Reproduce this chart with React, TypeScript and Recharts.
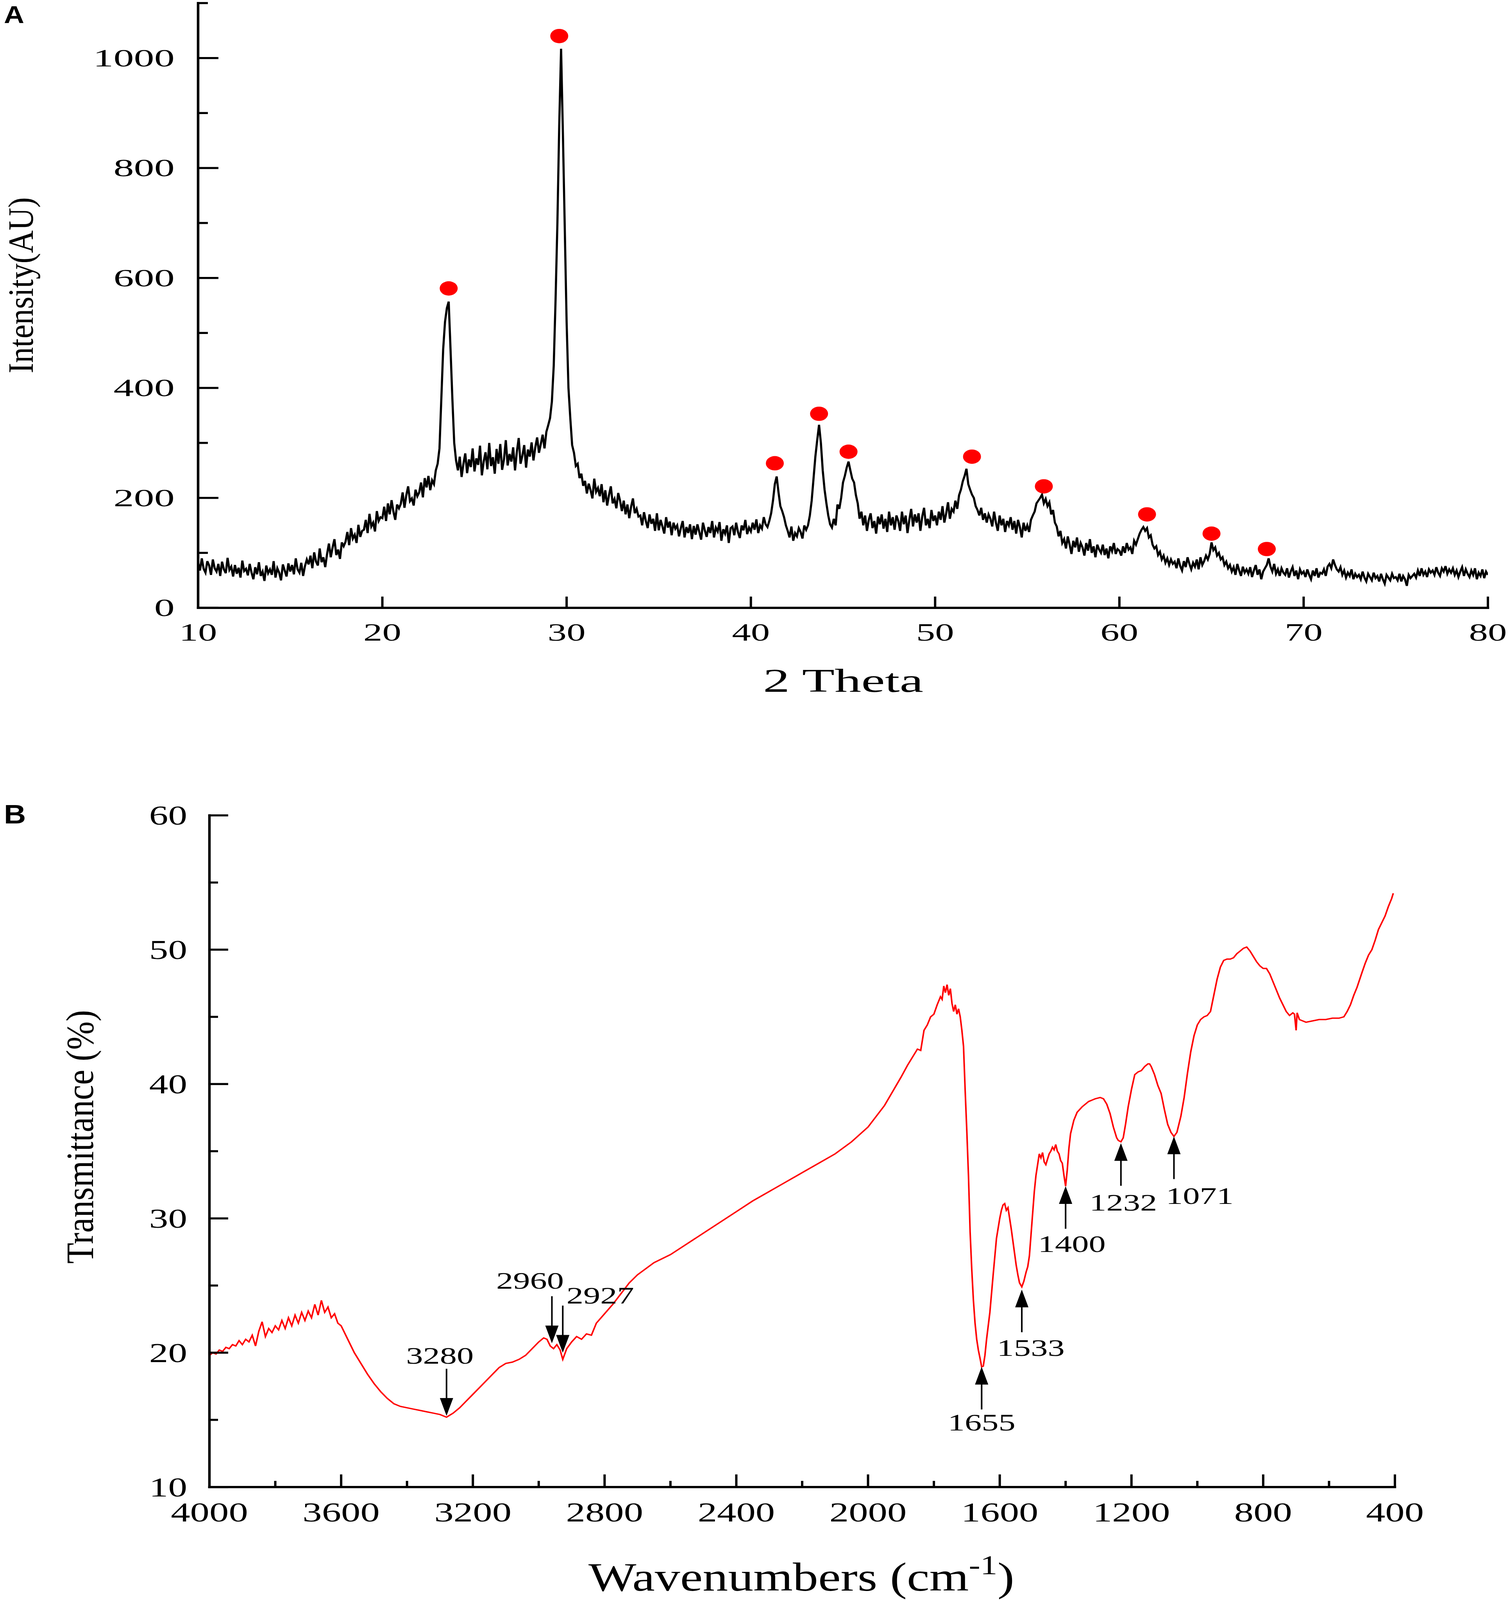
import React from 'react'
import { ComposedChart, Line, Scatter, XAxis, YAxis } from 'recharts'

const SERIF = '"Liberation Serif", "Times New Roman", Times, serif'
const SANS = '"Liberation Sans", Arial, Helvetica, sans-serif'

// ---------- A: XRD pattern, 2 theta 10..80 sampled every 0.1 ----------
const xrdStart = 10
const xrdStep = 0.1
const xrdIntensity = [
  82, 68, 90, 71, 64, 85, 77, 60, 88, 72,
  66, 80, 58, 84, 70, 63, 91, 69, 75, 57,
  78, 62, 73, 55, 86, 67, 71, 59, 80, 64,
  52, 74, 61, 83, 58, 66, 49, 77, 63, 70,
  60, 85, 55, 72, 64, 50, 79, 68, 57, 81,
  66, 78, 61, 90, 70, 64, 82, 58, 76, 88,
  79, 95, 72, 101, 84, 77, 108, 83, 92, 74,
  98, 117, 92, 110, 125, 96, 106, 89, 119, 112,
  120, 138, 114, 145, 126, 133, 118, 151, 129, 140,
  142, 160, 136, 171, 148, 155, 139, 176, 158, 165,
  163, 184, 158, 190, 170, 196, 175, 160, 188, 181,
  189, 210, 182, 205, 221, 194, 199, 186, 215, 203,
  210, 228, 201, 236, 219, 240, 214, 232, 225, 250,
  262, 290, 380, 470, 520, 545, 557, 470, 380, 300,
  268, 250, 275, 238, 262, 281, 245, 270, 256, 290,
  248, 272, 260, 295, 241, 266, 283, 252, 300, 258,
  274, 244, 289, 262, 298, 251, 270, 305, 259, 280,
  266, 292, 250, 284, 309, 262, 277, 296, 255, 288,
  275, 301, 268, 292, 310, 282, 298, 315, 290, 320,
  332, 345, 375, 440, 560, 700, 880, 1017, 860, 690,
  520, 400, 345, 296, 282, 258, 262, 236, 244, 222,
  231, 208, 226, 214, 199, 235, 211, 218, 203, 225,
  192, 214, 186, 205, 221, 190, 198, 181, 209, 195,
  176, 195, 170, 188, 163, 184, 199, 172, 180, 166,
  168, 150, 174, 158, 145, 170, 153, 162, 140, 172,
  141, 160, 148, 135, 165, 146, 157, 132, 155, 144,
  150, 130, 145, 158, 128, 147, 136, 152, 125, 149,
  133, 152, 138, 124, 155, 141, 129, 147, 136, 158,
  128, 146, 139, 156, 122, 143, 135, 150, 118, 145,
  148, 132, 155, 138, 127, 150, 141, 160, 134, 146,
  139, 155, 142, 161, 136, 150, 144, 165, 152, 147,
  158, 172, 195, 225, 239, 210, 185, 176, 165, 150,
  140, 128, 148, 122, 136, 130, 145, 138, 126, 150,
  142, 150, 168, 195, 235, 275, 305, 333, 300, 250,
  215, 190, 168, 152, 146, 162, 150, 188, 180, 200,
  228, 240, 255, 266, 250, 235, 228, 205, 190, 162,
  175, 150, 168, 140, 160, 172, 145, 158, 135, 166,
  152, 170, 144, 162, 138, 175, 150, 165, 142, 168,
  158, 140, 175, 152, 168, 136, 160, 180, 148, 170,
  155, 172, 140, 166, 182, 150, 162, 145, 178, 158,
  168, 150, 175, 160, 185, 155, 172, 192, 162, 180,
  175, 195, 180, 205, 215, 230, 240, 253, 225, 215,
  206, 200, 185, 178, 168, 182, 160, 172, 155, 170,
  162, 148, 175, 155, 140, 168, 150, 162, 138, 158,
  150, 165, 142, 158, 135, 160, 147, 128, 155, 140,
  150, 138, 160, 168, 175, 190, 195, 200, 206, 190,
  198, 185, 192, 170, 178, 155, 148, 130, 140, 118,
  125, 108, 130, 115, 98, 122, 110, 128, 102, 118,
  110, 95, 118, 104, 125, 100, 112, 92, 115, 106,
  100, 115, 96, 108, 90, 112, 103, 118, 98, 107,
  104, 95, 112, 100, 118, 106, 110, 98, 122, 115,
  125, 135, 142, 147, 140, 145, 128, 132, 115, 108,
  112, 96, 102, 88, 95, 82, 90, 78, 88, 80,
  84, 72, 90, 76, 68, 85, 74, 92, 80, 70,
  82, 75, 88, 70, 92, 78, 85, 95, 88, 98,
  119, 105, 110, 95, 100, 88, 92, 78, 84, 72,
  78, 66, 74, 60, 80, 68, 58, 75, 64, 70,
  62, 74, 56, 68, 78, 60, 70, 52, 66, 72,
  78, 90, 75, 66, 80, 62, 70, 58, 72, 64,
  60, 72, 55, 66, 74, 58, 68, 52, 70, 62,
  66, 56, 70, 60, 52, 68, 58, 72, 55, 64,
  62, 70, 58, 75, 80, 72, 88, 78, 70, 66,
  74, 60, 68, 55, 64, 58, 70, 52, 62, 56,
  60, 52, 66, 55, 48, 62, 56, 50, 64, 54,
  58, 48, 62, 52, 44, 60, 55, 50, 62, 54,
  56, 50, 62, 48, 58, 52, 40, 60, 54, 58,
  62, 55, 68, 58, 72, 60, 66, 56, 70, 64,
  68, 60, 74, 64, 58, 72, 66, 76, 62, 70,
  64, 72, 60, 68, 56, 66, 74, 58, 70, 62,
  56, 68, 60, 72, 52, 64, 58, 70, 54, 66,
  60,
]

// red markers above the indexed reflections
const peakTheta = [23.6, 29.6, 41.3, 43.7, 45.3, 52.0, 55.9, 61.5, 65.0, 68.0]
const peakMark = [581, 1040, 263, 353, 284, 275, 221, 170, 135, 107]

const thetaTicks = [10, 20, 30, 40, 50, 60, 70, 80]
const intensityTicks = [0, 100, 200, 300, 400, 500, 600, 700, 800, 900, 1000, 1100]

// ---------- B: FTIR spectrum ----------
const ftirWave = [
  4000, 3990, 3980, 3970, 3960, 3950, 3940, 3930, 3920, 3910,
  3900, 3890, 3880, 3870, 3860, 3850, 3840, 3830, 3820, 3810,
  3800, 3790, 3780, 3770, 3760, 3750, 3740, 3730, 3720, 3710,
  3700, 3690, 3680, 3670, 3660, 3650, 3640, 3630, 3620, 3610,
  3600, 3580, 3560, 3540, 3520, 3500, 3480, 3460, 3440, 3420,
  3400, 3380, 3360, 3340, 3320, 3300, 3280, 3260, 3240, 3220,
  3200, 3180, 3160, 3140, 3120, 3100, 3080, 3060, 3040, 3020,
  3000, 2985, 2975, 2965, 2955, 2945, 2935, 2927, 2915, 2900,
  2885, 2870, 2855, 2840, 2825, 2800, 2775, 2750, 2725, 2700,
  2650, 2600, 2550, 2500, 2450, 2400, 2350, 2300, 2250, 2200,
  2150, 2100, 2050, 2000, 1950, 1900, 1880, 1860, 1850, 1840,
  1830, 1820, 1810, 1800, 1790, 1780, 1775, 1770, 1765, 1760,
  1755, 1750, 1745, 1740, 1735, 1730, 1725, 1720, 1715, 1710,
  1705, 1700, 1695, 1690, 1685, 1680, 1675, 1670, 1665, 1660,
  1655, 1650, 1645, 1640, 1630, 1620, 1610, 1600, 1595, 1590,
  1585, 1580, 1575, 1570, 1565, 1560, 1555, 1550, 1545, 1540,
  1533, 1527, 1520, 1515, 1510, 1505, 1500, 1495, 1490, 1485,
  1480, 1475, 1470, 1465, 1460, 1455, 1450, 1445, 1440, 1435,
  1430, 1425, 1420, 1415, 1410, 1405, 1400, 1395, 1390, 1385,
  1375, 1365, 1350, 1330, 1310, 1295, 1285, 1275, 1265, 1255,
  1245, 1240, 1232, 1225, 1218, 1210, 1200, 1190, 1180, 1170,
  1160, 1150, 1145, 1140, 1130, 1120, 1110, 1100, 1090, 1080,
  1071, 1062, 1050, 1040, 1030, 1020, 1010, 1000, 990, 980,
  970, 960, 950, 940, 930, 920, 910, 900, 890, 880,
  870, 860, 850, 840, 830, 820, 810, 800, 790, 780,
  770, 760, 750, 740, 730, 720, 710, 705, 700, 697,
  690, 680, 670, 650, 630, 610, 590, 570, 555, 545,
  535, 525, 515, 500, 490, 480, 470, 460, 450, 440,
  430, 420, 410, 405,
]
const ftirTrans = [
  19.8, 20.0, 19.9, 20.2, 20.1, 20.4, 20.3, 20.6, 20.5, 20.9,
  20.6, 21.0, 20.8, 21.3, 20.5, 21.6, 22.3, 21.2, 21.8, 21.5,
  22.0, 21.7, 22.4, 21.8, 22.6, 22.0, 22.8, 22.2, 23.0, 22.4,
  23.1, 22.6, 23.6, 22.8, 23.9, 23.0, 23.4, 22.6, 22.9, 22.2,
  22.0, 21.0, 20.0, 19.2, 18.4, 17.7, 17.1, 16.6, 16.2, 16.0,
  15.9, 15.8, 15.7, 15.6, 15.5, 15.4, 15.2, 15.5, 15.9, 16.4,
  16.9, 17.4, 17.9, 18.4, 18.9, 19.2, 19.3, 19.5, 19.8, 20.3,
  20.8, 21.1, 21.0, 20.5, 20.3, 20.6, 20.2, 19.5, 20.3, 20.8,
  21.2, 21.0, 21.4, 21.3, 22.2, 22.9, 23.6, 24.4, 25.2, 25.8,
  26.7, 27.3, 28.1, 28.9, 29.7, 30.5, 31.3, 32.0, 32.7, 33.4,
  34.1, 34.8, 35.7, 36.8, 38.4, 40.5, 41.4, 42.2, 42.6, 42.5,
  44.0, 44.4, 45.0, 45.2, 45.9, 46.5, 46.3, 47.3, 46.8, 47.4,
  46.6, 47.1, 46.0, 45.4, 45.9, 45.2, 45.6, 45.0, 44.0, 42.8,
  39.5, 36.5, 33.2, 29.0, 26.2, 23.9, 22.2, 21.0, 20.2, 19.6,
  18.95, 19.0, 19.8, 21.0, 23.0, 25.8, 28.5, 30.0, 30.6, 31.0,
  31.1, 30.6, 30.8, 30.0, 29.2, 28.3, 27.4, 26.5, 25.8, 25.2,
  24.9, 25.3, 26.0, 26.4, 27.2, 28.8, 30.4, 32.0, 33.2, 34.0,
  34.8, 34.5, 34.9, 34.2, 34.0, 34.4, 34.8, 35.0, 35.3, 35.1,
  35.5, 35.0, 34.8, 34.3, 34.1, 33.2, 32.4, 33.6, 35.2, 36.3,
  37.3, 37.9, 38.3, 38.7, 38.9, 39.0, 38.9, 38.5, 37.8, 36.8,
  36.0, 35.8, 35.7, 36.0, 37.0, 38.3, 39.6, 40.7, 40.9, 41.0,
  41.3, 41.5, 41.5, 41.3, 40.7, 39.9, 39.3, 38.1, 37.0, 36.4,
  36.1, 36.4, 37.6, 39.0, 40.8, 42.4, 43.6, 44.4, 44.8, 45.0,
  45.1, 45.4, 46.6, 47.8, 48.7, 49.2, 49.3, 49.3, 49.4, 49.7,
  49.9, 50.1, 50.2, 49.9, 49.5, 49.1, 48.8, 48.6, 48.6, 48.2,
  47.6, 47.0, 46.4, 45.9, 45.4, 45.1, 45.3, 45.2, 44.0, 45.3,
  44.8, 44.7, 44.6, 44.7, 44.8, 44.8, 44.9, 44.9, 45.0, 45.4,
  45.9, 46.6, 47.2, 48.3, 49.0, 49.6, 50.0, 50.7, 51.5, 52.0,
  52.5, 53.2, 53.8, 54.2,
]

// assigned bands: wavenumber, arrow tip (transmittance), arrow pointing up?
const bandWave = [3280, 2960, 2927, 1655, 1533, 1400, 1232, 1071]
const bandTip = [15.3, 20.7, 20.0, 18.95, 24.7, 32.4, 35.6, 36.1]
const bandUp = [false, false, false, true, true, true, true, true]

const waveTicks = [4000, 3800, 3600, 3400, 3200, 3000, 2800, 2600, 2400, 2200, 2000, 1800, 1600, 1400, 1200, 1000, 800, 600, 400]
const transTicks = [10, 15, 20, 25, 30, 35, 40, 45, 50, 55, 60]

const xrdData = xrdIntensity.map((y, i) => ({ x: Math.round((xrdStart + i * xrdStep) * 10) / 10, y }))
const peakData = peakTheta.map((x, i) => ({ x, y: peakMark[i] }))
const ftirData = ftirWave.map((x, i) => ({ x, y: ftirTrans[i] }))
const bandData = bandWave.map((x, i) => ({ x, y: bandTip[i], up: bandUp[i] }))

// label placement around each arrow (pixels from the arrow tip)
const bandLabelOffset: Record<number, [number, number]> = {
  3280: [-17, -153],
  2960: [-56, -160],
  2927: [96, -144],
  1655: [0, 186],
  1533: [23, 194],
  1400: [16, 193],
  1232: [6, 198],
  1071: [66, 198],
}

const PAGE_W = 3862
const PAGE_H = 4688

const axisStyle = { stroke: '#000', strokeWidth: 6.5, strokeLinecap: 'square' as const }

function leftTick(o: { major: (v: number) => boolean; big: number; small: number; gap: number; size: number; sx: number }) {
  return (p: any) => {
    const v = p.payload.value
    const isMajor = o.major(v)
    return (
      <g>
        <line x1={p.x} x2={p.x + (isMajor ? o.big : o.small)} y1={p.y} y2={p.y} stroke="#000" strokeWidth={6} />
        {isMajor && (
          <text
            transform={`translate(${p.x - o.gap},${p.y + o.size * 0.338}) scale(${o.sx},1)`}
            textAnchor="end"
            fontFamily={SERIF}
            fontSize={o.size}
            fill="#000"
          >
            {v}
          </text>
        )}
      </g>
    )
  }
}

function bottomTick(o: { major: (v: number) => boolean; big: number; small: number; base: number; size: number; sx: number }) {
  return (p: any) => {
    const v = p.payload.value
    const isMajor = o.major(v)
    return (
      <g>
        <line x1={p.x} x2={p.x} y1={p.y} y2={p.y - (isMajor ? o.big : o.small)} stroke="#000" strokeWidth={6} />
        {isMajor && (
          <text
            transform={`translate(${p.x},${p.y + o.base}) scale(${o.sx},1)`}
            textAnchor="middle"
            fontFamily={SERIF}
            fontSize={o.size}
            fill="#000"
          >
            {v}
          </text>
        )}
      </g>
    )
  }
}

const xrdLeftTick = leftTick({ major: (v) => v % 200 === 0, big: 52, small: 25, gap: 60, size: 72, sx: 1.45 })
const xrdBottomTick = bottomTick({ major: () => true, big: 33, small: 33, base: 96, size: 73, sx: 1.33 })
const ftirLeftTick = leftTick({ major: (v) => v % 10 === 0, big: 48, small: 22, gap: 57, size: 81, sx: 1.2 })
const ftirBottomTick = bottomTick({ major: (v) => v % 400 === 0, big: 37, small: 18, base: 101, size: 81, sx: 1.22 })

function PeakDot(p: any) {
  if (p.cx == null || p.cy == null) return null
  return <ellipse cx={p.cx} cy={p.cy} rx={23} ry={21} fill="#ff0000" />
}

function BandArrow(p: any) {
  const { cx, cy, payload } = p
  if (cx == null || cy == null) return null
  const up = payload.up
  const s = up ? 1 : -1
  const len = up ? 125 : 138
  const head = 52
  const half = 17
  const [dx, dy] = bandLabelOffset[payload.x] || [0, 0]
  return (
    <g>
      <line x1={cx} y1={cy + s * (head - 4)} x2={cx} y2={cy + s * len} stroke="#000" strokeWidth={4} />
      <polygon points={`${cx},${cy} ${cx - half},${cy + s * head} ${cx + half},${cy + s * head}`} fill="#000" />
      <text
        transform={`translate(${cx + dx},${cy + dy}) scale(1.22,1)`}
        textAnchor="middle"
        fontFamily={SERIF}
        fontSize={71}
        fill="#000"
      >
        {payload.x}
      </text>
    </g>
  )
}

export default function App() {
  // if the visible page is smaller than the figure, squeeze the figure into it
  const vw = typeof window !== 'undefined' ? window.innerWidth : PAGE_W
  const vh = typeof window !== 'undefined' ? window.innerHeight : PAGE_H
  const fitX = vw > 0 && vw < PAGE_W ? vw / PAGE_W : 1
  const fitY = vh > 0 && vh < PAGE_H ? vh / PAGE_H : 1

  return (
    <div style={{ position: 'fixed', left: 0, top: 0, right: 0, bottom: 0, overflow: 'hidden', background: '#fff' }}>
      <div
        style={{
          position: 'absolute',
          left: 0,
          top: 0,
          width: PAGE_W,
          height: PAGE_H,
          background: '#fff',
          transform: `scale(${fitX},${fitY})`,
          transformOrigin: '0 0',
        }}
      >
        <div style={{ position: 'absolute', left: 0, top: 0 }}>
          <ComposedChart width={PAGE_W} height={2150} margin={{ top: 9, right: 54, left: 307, bottom: 219 }}>
            <XAxis
              dataKey="x"
              type="number"
              domain={[10, 80]}
              ticks={thetaTicks}
              interval={0}
              height={150}
              allowDataOverflow
              axisLine={axisStyle}
              tickLine={false}
              tickSize={0}
              tickMargin={0}
              tick={xrdBottomTick}
            />
            <YAxis
              type="number"
              domain={[0, 1100]}
              ticks={intensityTicks}
              interval={0}
              width={200}
              allowDataOverflow
              axisLine={axisStyle}
              tickLine={false}
              tickSize={0}
              tickMargin={0}
              tick={xrdLeftTick}
            />
            <Line
              data={xrdData}
              dataKey="y"
              type="linear"
              stroke="#000"
              strokeWidth={5.5}
              strokeLinejoin="miter"
              dot={false}
              activeDot={false}
              isAnimationActive={false}
            />
            <Scatter data={peakData} dataKey="y" fill="#ff0000" shape={(p: any) => <PeakDot {...p} />} isAnimationActive={false} />
          </ComposedChart>
        </div>

        <div style={{ position: 'absolute', left: 0, top: 2250 }}>
          <ComposedChart width={PAGE_W} height={2438} margin={{ top: 139, right: 292, left: 336, bottom: 181 }}>
            <XAxis
              dataKey="x"
              type="number"
              domain={[400, 4000]}
              reversed
              ticks={waveTicks}
              interval={0}
              height={150}
              allowDataOverflow
              axisLine={axisStyle}
              tickLine={false}
              tickSize={0}
              tickMargin={0}
              tick={ftirBottomTick}
            />
            <YAxis
              type="number"
              domain={[10, 60]}
              ticks={transTicks}
              interval={0}
              width={200}
              allowDataOverflow
              axisLine={axisStyle}
              tickLine={false}
              tickSize={0}
              tickMargin={0}
              tick={ftirLeftTick}
            />
            <Line
              data={ftirData}
              dataKey="y"
              type="linear"
              stroke="#ff0000"
              strokeWidth={4}
              dot={false}
              activeDot={false}
              isAnimationActive={false}
            />
            <Scatter data={bandData} dataKey="y" fill="#000" shape={(p: any) => <BandArrow {...p} />} isAnimationActive={false} />
          </ComposedChart>
        </div>

        <svg width={PAGE_W} height={PAGE_H} style={{ position: 'absolute', left: 0, top: 0, pointerEvents: 'none' }}>
          <text x={10} y={67} fontFamily={SANS} fontWeight={700} fontSize={72} fill="#000">A</text>
          <text x={10} y={2413} fontFamily={SANS} fontWeight={700} fontSize={78} fill="#000">B</text>
          <text transform="translate(84,836) rotate(-90)" textAnchor="middle" fontFamily={SERIF} fontSize={92} fill="#000">
            Intensity(AU)
          </text>
          <text transform="translate(2158,2027) scale(1.42,1)" textAnchor="middle" fontFamily={SERIF} fontSize={96} fill="#000">
            2 Theta
          </text>
          <text transform="translate(238,3331) rotate(-90)" textAnchor="middle" fontFamily={SERIF} fontSize={100} fill="#000">
            Transmittance (%)
          </text>
          <text transform="translate(2051,4660) scale(1.1,1)" textAnchor="middle" fontFamily={SERIF} fontSize={118} fill="#000">
            Wavenumbers (cm
            <tspan dy={-48} fontSize={80}>-1</tspan>
            <tspan dy={48} fontSize={118}>)</tspan>
          </text>
        </svg>
      </div>
    </div>
  )
}
